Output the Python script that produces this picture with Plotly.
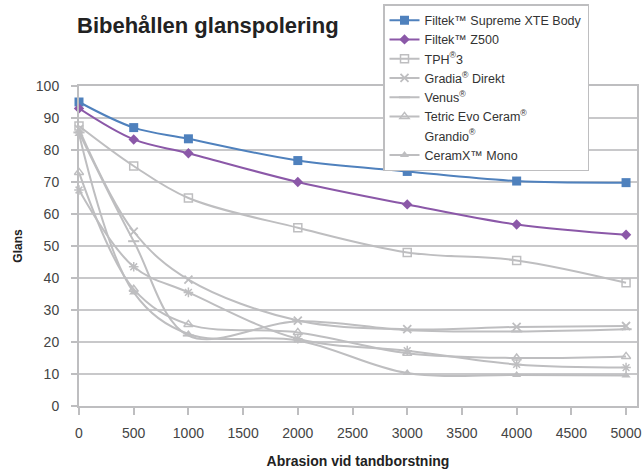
import plotly.graph_objects as go

abrasion = [0, 500, 1000, 2000, 3000, 4000, 5000]
x_ticks = [0, 500, 1000, 1500, 2000, 2500, 3000, 3500, 4000, 4500, 5000]
y_ticks = [0, 10, 20, 30, 40, 50, 60, 70, 80, 90, 100]

R = "<sup>®\ufe0e</sup>"
series_names = [
    "Filtek™ Supreme XTE Body",
    "Filtek™ Z500",
    "TPH" + R + "3",
    "Gradia" + R + " Direkt",
    "Venus" + R,
    "Tetric Evo Ceram" + R,
    "Grandio" + R,
    "CeramX™ Mono",
]

filtek_xte = [95.0, 87.0, 83.5, 76.7, 73.3, 70.3, 69.8]
filtek_z500 = [93.0, 83.3, 79.0, 70.0, 63.0, 56.7, 53.5]
tph3 = [87.5, 75.0, 65.0, 55.7, 48.0, 45.5, 38.5]
gradia = [86.5, 54.5, 39.5, 26.7, 24.0, 24.7, 25.0]
venus = [85.5, 51.5, 22.0, 26.5, 23.7, 23.3, 24.0]
tetric = [73.0, 36.5, 25.5, 23.0, 16.5, 15.0, 15.5]
grandio = [67.5, 43.5, 35.5, 21.0, 17.3, 13.0, 12.0]
ceramx = [85.0, 35.5, 22.5, 20.5, 10.3, 9.7, 9.5]

values = [filtek_xte, filtek_z500, tph3, gradia, venus, tetric, grandio, ceramx]

BLUE = "#4F81BD"
PURPLE = "#8B58A8"
GRAY = "#BEBEC0"

styles = [
    dict(color=BLUE, symbol="square", size=9, lw=0),
    dict(color=PURPLE, symbol="diamond", size=8, lw=0),
    dict(color=GRAY, symbol="square-open", size=8, lw=1.5),
    dict(color=GRAY, symbol="x-thin-open", size=8, lw=1.8),
    dict(color=GRAY, symbol="line-ew-open", size=8, lw=2),
    dict(color=GRAY, symbol="triangle-up-open", size=8, lw=1.5),
    dict(color=GRAY, symbol="asterisk-open", size=8, lw=1.5),
    dict(color=GRAY, symbol="triangle-up", size=8, lw=0),
]

FONT = "Liberation Sans, Arial, sans-serif"

fig = go.Figure()
for i, (name, ys, st) in enumerate(zip(series_names, values, styles)):
    is_grandio = name.startswith("Grandio")
    fig.add_trace(go.Scatter(
        x=abrasion, y=ys, name=name, mode="lines+markers",
        line=dict(color=st["color"], width=2, shape="spline", smoothing=1),
        marker=dict(symbol=st["symbol"], size=st["size"], color=st["color"],
                    line=dict(color=st["color"], width=st["lw"])),
        cliponaxis=False,
        showlegend=not is_grandio,
        legendrank=i + 1,
    ))
    if is_grandio:
        # legend entry without a symbol, as in the original
        fig.add_trace(go.Scatter(
            x=[None], y=[None], name=name, mode="lines",
            line=dict(color="rgba(0,0,0,0)", width=2),
            legendrank=i + 1,
        ))

fig.update_layout(
    width=643, height=471,
    margin=dict(l=79, r=6, t=86, b=65, autoexpand=False),
    paper_bgcolor="white", plot_bgcolor="white",
    font=dict(family=FONT, size=13, color="#333333"),
    title=dict(text="<b>Bibehållen glanspolering</b>", x=77 / 643, xanchor="left",
               y=1 - 25 / 471, yanchor="middle",
               font=dict(family=FONT, size=22, color="#222222")),
    legend=dict(x=(383 - 79) / 558, y=(406 - 4) / 320, xanchor="left", yanchor="top",
                bgcolor="white", bordercolor="#BEBEC0", borderwidth=1.5,
                font=dict(family=FONT, size=12.5, color="#333333"),
                tracegroupgap=0, itemwidth=30, entrywidth=190, entrywidthmode="pixels"),
    xaxis=dict(range=[0, 5100], tickvals=x_ticks, automargin=False,
               showgrid=False, zeroline=False,
               showline=True, linecolor="#BEBEC0", linewidth=2, mirror=True,
               ticks="outside", ticklen=7, tickwidth=2, tickcolor="#BEBEC0",
               ticklabelstandoff=6,
               tickfont=dict(size=14, color="#444444"),
               title=dict(text="<b>Abrasion vid tandborstning</b>", standoff=16,
                          font=dict(size=14, color="#222222"))),
    yaxis=dict(range=[0, 100], tickvals=y_ticks, automargin=False,
               showgrid=True, gridcolor="#C8C8CA", gridwidth=1.5,
               zeroline=False, showline=True, linecolor="#BEBEC0", linewidth=2, mirror=True,
               ticks="outside", ticklen=6, tickwidth=2, tickcolor="#BEBEC0",
               ticklabelstandoff=9,
               tickfont=dict(size=14, color="#444444"),
               title=dict(text="<b>Glans</b>", standoff=11,
                          font=dict(size=12, color="#222222"))),
)

fig.write_html("out.html", config={"displayModeBar": False},
               post_script="document.body.style.margin='0px';")
